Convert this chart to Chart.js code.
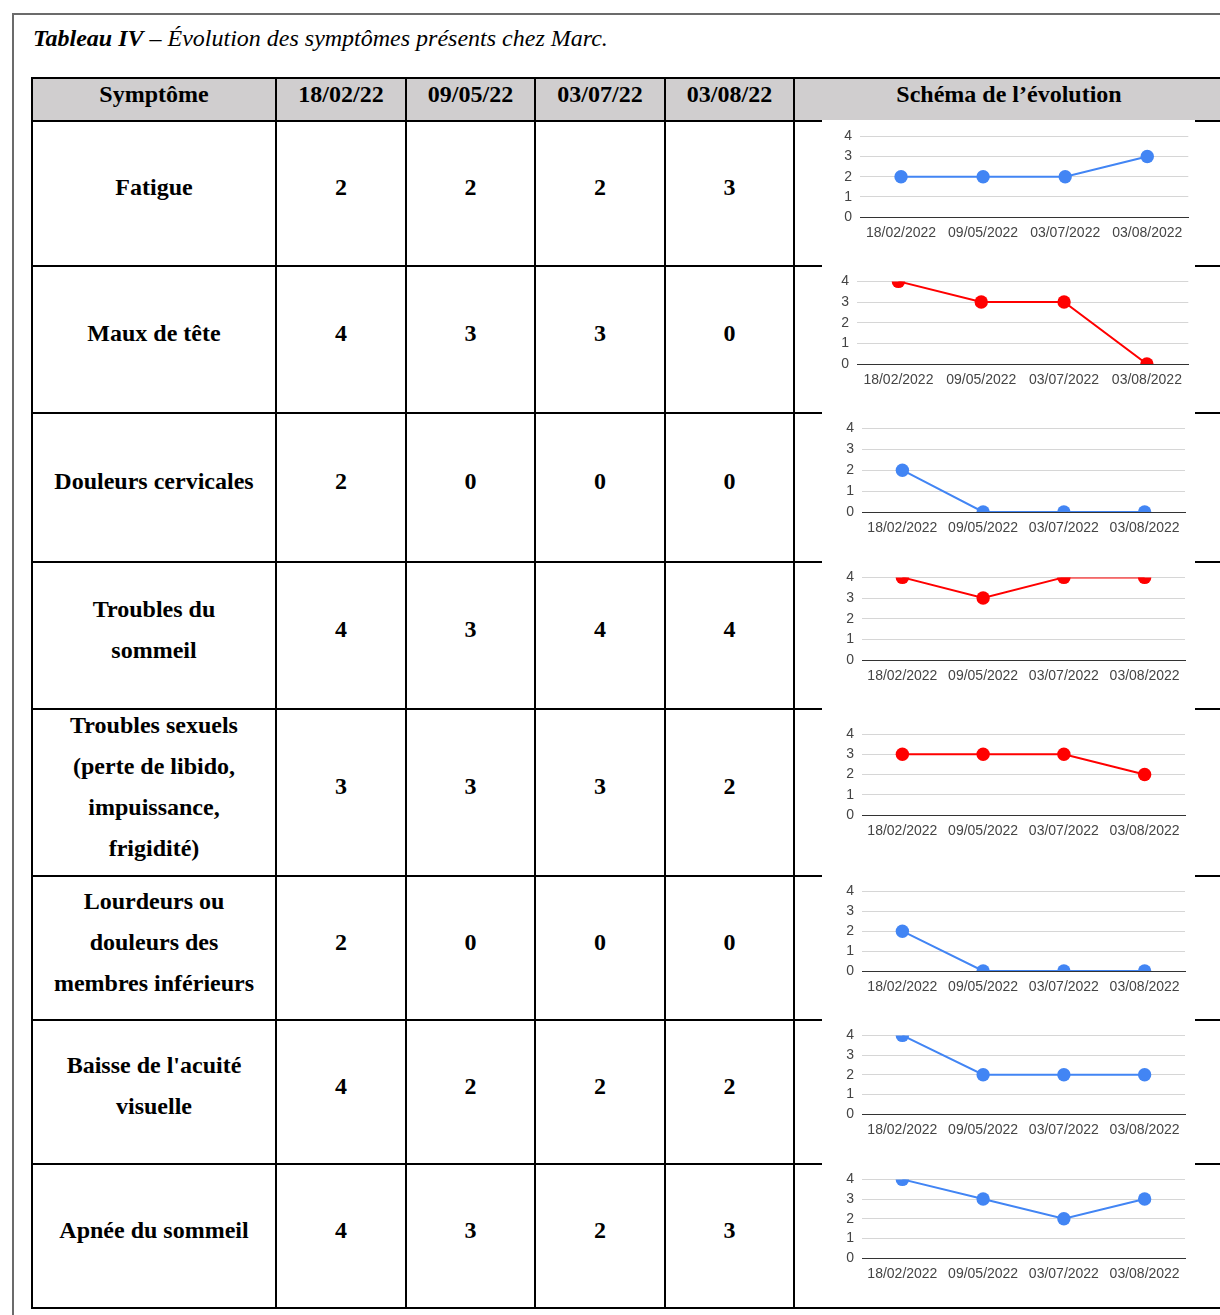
<!DOCTYPE html>
<html lang="fr">
<head>
<meta charset="utf-8">
<title>Tableau IV</title>
<script src="https://cdn.jsdelivr.net/npm/chart.js@4.4.1/dist/chart.umd.min.js"></script>
<style>
  html, body { margin: 0; padding: 0; background: #fff; overflow: hidden; width: 1220px; height: 1315px; }
  .frame { position: absolute; left: 12px; top: 13px; width: 1300px; height: 1400px; border: 2px solid #6b6b6b; }
  .title { position: absolute; left: 33px; top: 24px; font: italic 24px/28px "Liberation Serif", "Times New Roman", serif; white-space: nowrap; }
  .title b { font-weight: bold; }
  table { position: absolute; left: 31px; top: 77px; border-collapse: collapse; table-layout: fixed; width: 1192px;
          font: bold 24px "Liberation Serif", "Times New Roman", serif; color: #000; }
  td, th { border: 2px solid #000; text-align: center; vertical-align: middle; padding: 0; line-height: 41px; white-space: pre; }
  td > span, th > span { display: block; position: relative; top: -6px; }
  th { background: #d0cecf; line-height: 28px; }
  th > span { top: -6px; }
  td.chart { position: relative; }
  .plot { position: absolute; left: 27px; top: -2px; width: 373px; background: #fff; }
  .plot canvas { display: block; }
</style>
</head>
<body>
<div class="frame"></div>
<div class="title"><b>Tableau IV</b> – Évolution des symptômes présents chez Marc.</div>
<table id="tbl">
  <colgroup>
    <col style="width:244px"><col style="width:130px"><col style="width:129px">
    <col style="width:130px"><col style="width:129px"><col style="width:430px">
  </colgroup>
  <thead><tr id="head" style="height:43px"></tr></thead>
  <tbody id="body"></tbody>
</table>
<script>
const dates = ['18/02/22', '09/05/22', '03/07/22', '03/08/22'];
const chartDates = ['18/02/2022', '09/05/2022', '03/07/2022', '03/08/2022'];
const symptoms = [
  'Fatigue',
  'Maux de tête',
  'Douleurs cervicales',
  'Troubles du\nsommeil',
  'Troubles sexuels\n(perte de libido,\nimpuissance,\nfrigidité)',
  'Lourdeurs ou\ndouleurs des\nmembres inférieurs',
  "Baisse de l'acuité\nvisuelle",
  'Apnée du sommeil'
];

const fatigue = [2, 2, 2, 3];
const mauxDeTete = [4, 3, 3, 0];
const douleursCervicales = [2, 0, 0, 0];
const troublesSommeil = [4, 3, 4, 4];
const troublesSexuels = [3, 3, 3, 2];
const lourdeursMembres = [2, 0, 0, 0];
const acuiteVisuelle = [4, 2, 2, 2];
const apneeSommeil = [4, 3, 2, 3];

const series = [fatigue, mauxDeTete, douleursCervicales, troublesSommeil,
                troublesSexuels, lourdeursMembres, acuiteVisuelle, apneeSommeil];

const BLUE = '#4285f4';
const RED = '#ff0000';
const lineColors = [BLUE, RED, BLUE, RED, RED, BLUE, BLUE, BLUE];

// row heights and per-row plot boxes: [axis width, right pad, top pad, plot height]
const rowHeights = [145, 147, 149, 147, 167, 144, 144, 144];
const plotBoxes = [
  [38, 6, 15, 82], [35, 5, 15, 84], [40, 10, 16, 84], [40, 10, 15, 84],
  [40, 10, 26, 81], [40, 10, 15, 81], [40, 10, 14, 81], [40, 10, 14, 81]
];
const AXIS_H = 36;
const tickFont = { family: "'Liberation Sans', Arial, sans-serif", size: 14 };

function cellText(tag, text) {
  const cell = document.createElement(tag);
  const span = document.createElement('span');
  span.textContent = text;
  cell.appendChild(span);
  return cell;
}

const head = document.getElementById('head');
['Symptôme', ...dates, 'Schéma de l’évolution'].forEach(t => head.appendChild(cellText('th', t)));

const body = document.getElementById('body');

symptoms.forEach((name, i) => {
  const tr = document.createElement('tr');
  tr.style.height = rowHeights[i] + 'px';

  tr.appendChild(cellText('td', name));
  series[i].forEach(v => tr.appendChild(cellText('td', v)));

  const chartCell = document.createElement('td');
  chartCell.className = 'chart';
  const box = document.createElement('div');
  box.className = 'plot';
  const canvas = document.createElement('canvas');
  box.appendChild(canvas);
  chartCell.appendChild(box);
  tr.appendChild(chartCell);
  body.appendChild(tr);

  drawChart(canvas, series[i], lineColors[i], plotBoxes[i]);
});

function drawChart(canvas, values, color, pb) {
  const [axisW, padRight, padTop, plotH] = pb;
  canvas.width = 373;
  canvas.height = padTop + plotH + AXIS_H;

  new Chart(canvas, {
    type: 'line',
    data: {
      labels: chartDates,
      datasets: [{
        data: values,
        borderColor: color,
        backgroundColor: color,
        borderWidth: 2,
        pointRadius: 6.7,
        pointHoverRadius: 6.7,
        pointBorderWidth: 0,
        tension: 0
      }]
    },
    options: {
      responsive: false,
      animation: false,
      events: [],
      layout: { padding: { top: padTop, right: padRight, left: 0, bottom: 0 } },
      plugins: { legend: { display: false }, tooltip: { enabled: false } },
      scales: {
        x: {
          offset: true,
          grid: { display: false, drawTicks: false },
          border: { color: '#333', width: 1 },
          ticks: { color: '#444', font: tickFont, padding: 8, maxRotation: 0, autoSkip: false },
          afterFit: s => { s.height = AXIS_H; }
        },
        y: {
          min: 0,
          max: 4,
          grid: { color: '#d6d6d6', drawTicks: false },
          border: { display: false },
          ticks: { stepSize: 1, autoSkip: false, color: '#444', font: tickFont, padding: 8 },
          afterFit: s => { s.width = axisW; }
        }
      }
    }
  });
}
</script>
</body>
</html>
